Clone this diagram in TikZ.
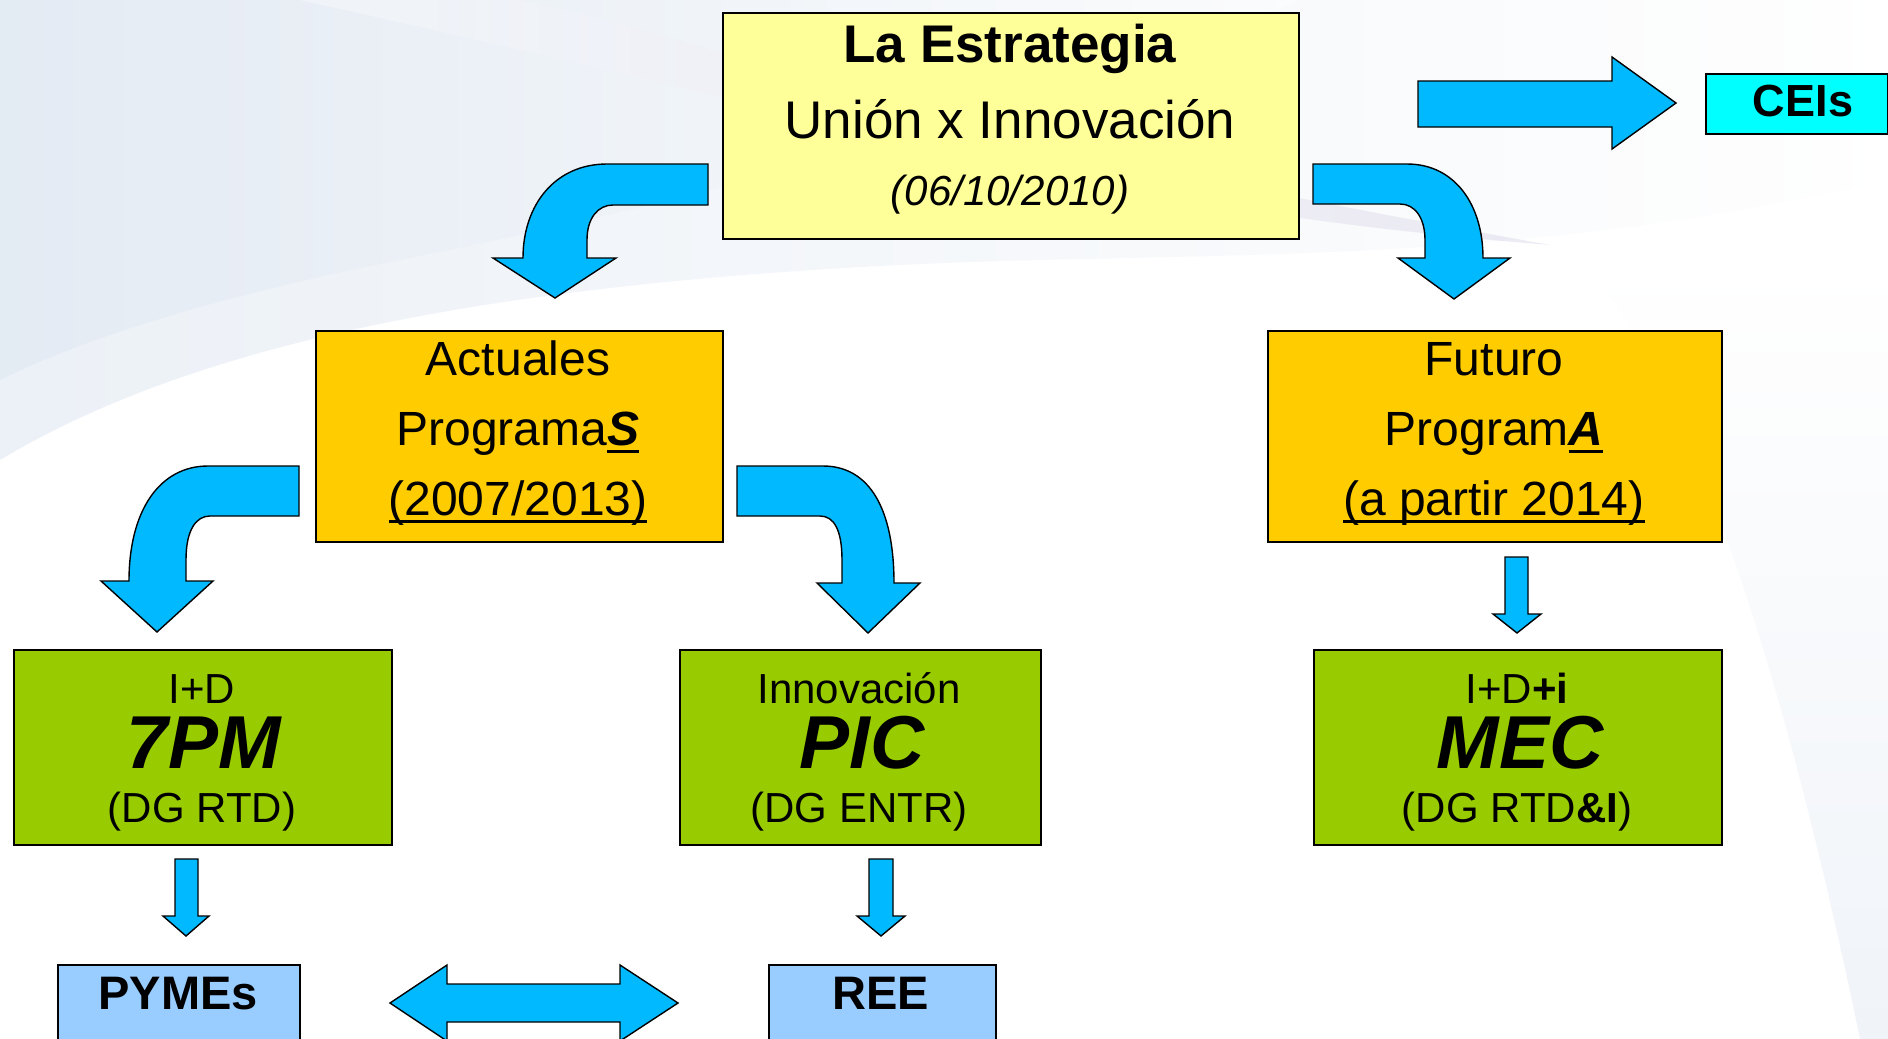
\documentclass[tikz,border=0pt]{standalone}
\usepackage{fontspec}
\setmainfont{Liberation Sans}
\definecolor{arrowblue}{RGB}{0,185,255}
\definecolor{yellowbox}{RGB}{255,255,153}
\definecolor{orangebox}{RGB}{255,204,0}
\definecolor{greenbox}{RGB}{153,204,0}
\definecolor{bluebox}{RGB}{153,204,255}
\definecolor{cyanbox}{RGB}{0,255,255}
\definecolor{bgA}{RGB}{218,228,240}
\definecolor{bgB}{RGB}{205,200,225}
\newsavebox\ulbox
\newcommand\myul[1]{\sbox\ulbox{#1}\usebox\ulbox\hspace*{-\wd\ulbox}\rule[-8pt]{\wd\ulbox}{3pt}}
\newcommand\fsBig{\fontsize{53}{60}\selectfont}
\newcommand\fsMid{\fontsize{48}{56}\selectfont}
\newcommand\fsSmall{\fontsize{42}{50}\selectfont}
\newcommand\fsHuge{\fontsize{75}{84}\selectfont}
\begin{document}
\begin{tikzpicture}[x=1pt,y=-1pt,
  box/.style={draw=black,line width=1.6pt,inner sep=0pt,anchor=north west},
  txt/.style={inner sep=0pt,anchor=base,text=black},
  blockarrow/.style={fill=arrowblue,draw=black,line width=1.4pt,line join=miter}]
\useasboundingbox (0,0) rectangle (1888,1039);
\fill[white] (0,0) rectangle (1888,1039);
% background swooshes
\shade[left color=bgA, right color=white, opacity=0.5]
  (0,0) -- (1888,0) -- (1888,180) .. controls (1500,270) and (1200,250) .. (900,265)
  .. controls (500,285) and (200,340) .. (0,460) -- cycle;
\shade[left color=bgA, right color=white, opacity=0.45]
  (0,0) -- (1300,0) .. controls (1000,120) and (700,200) .. (400,260)
  .. controls (250,290) and (100,330) .. (0,380) -- cycle;
\shade[left color=white, right color=bgB, opacity=0.35]
  (300,0) .. controls (480,40) and (650,80) .. (900,140) .. controls (1100,190) and (1300,225) .. (1550,245)
  .. controls (1300,200) and (1100,160) .. (900,110) .. controls (750,60) and (620,20) .. (520,0) -- cycle;
\shade[top color=white, bottom color=bgA, opacity=0.4]
  (1600,280) .. controls (1720,450) and (1800,750) .. (1860,1039) -- (1888,1039) -- (1888,280) -- cycle;

% boxes
\node[box, fill=yellowbox, minimum width=576pt, minimum height=226pt] (strat) at (722,12) {};
\node[box, fill=orangebox, minimum width=407pt, minimum height=211pt] (act) at (315,330) {};
\node[box, fill=orangebox, minimum width=454pt, minimum height=211pt] (fut) at (1267,330) {};
\node[box, fill=greenbox, minimum width=378pt, minimum height=195pt] (pm) at (13,649) {};
\node[box, fill=greenbox, minimum width=361pt, minimum height=195pt] (pic) at (679,649) {};
\node[box, fill=greenbox, minimum width=408pt, minimum height=195pt] (mec) at (1313,649) {};
\node[box, fill=bluebox, minimum width=242pt, minimum height=90pt] (pymes) at (57,964) {};
\node[box, fill=bluebox, minimum width=227pt, minimum height=90pt] (ree) at (768,964) {};
\node[box, fill=cyanbox, minimum width=182pt, minimum height=60pt] (ceis) at (1705,73) {};

% texts
\node[txt] (s1) at (1010,62) {\fsBig\bfseries La Estrategia};
\node[txt] (s2) at (1010,138) {\fsBig Unión x Innovación};
\node[txt] (s3) at (1010,205) {\fsSmall\itshape (06/10/2010)};

\node[txt] (a1) at (518,375) {\fsMid Actuales};
\node[txt] (a2) at (518,445) {\fsMid Programa\myul{\bfseries\itshape S}};
\node[txt] (a3) at (518,515) {\fsMid\myul{(2007/2013)}};

\node[txt] (f1) at (1494,375) {\fsMid Futuro};
\node[txt] (f2) at (1494,445) {\fsMid Program\myul{\bfseries\itshape A}};
\node[txt] (f3) at (1494,515) {\fsMid\myul{(a partir 2014)}};

\node[txt] (p1) at (202,703) {\fsSmall I+D};
\node[txt] (p2) at (204,768) {\fsHuge\bfseries\itshape 7PM};
\node[txt] (p3) at (202,822) {\fsSmall (DG RTD)};

\node[txt] (i1) at (859,703) {\fsSmall Innovación};
\node[txt] (i2) at (862,768) {\fsHuge\bfseries\itshape PIC};
\node[txt] (i3) at (859,822) {\fsSmall (DG ENTR)};

\node[txt] (m1) at (1517,703) {\fsSmall I+D\textbf{+i}};
\node[txt] (m2) at (1520,768) {\fsHuge\bfseries\itshape MEC};
\node[txt] (m3) at (1517,822) {\fsSmall (DG RTD\textbf{\&I})};

\node[txt] (c1) at (1803,116) {\fontsize{45}{52}\selectfont\bfseries CEIs};
\node[txt] (y1) at (178,1009) {\fontsize{47}{54}\selectfont\bfseries PYMEs};
\node[txt] (r1) at (881,1009) {\fontsize{47}{54}\selectfont\bfseries REE};

% block arrows
\draw[blockarrow] (708,164) -- (607,164) .. controls (555,164) and (523,205) .. (523,258)
  -- (493,258) -- (555,298) -- (616,258) -- (587,258) -- (587,240)
  .. controls (587,218) and (598,205) .. (613,205) -- (708,205) -- cycle;
\draw[blockarrow] (1313,164) -- (1407,164) .. controls (1455,164) and (1483,205) .. (1483,258)
  -- (1510,258) -- (1454,299) -- (1398,258) -- (1425,258) -- (1425,240)
  .. controls (1425,218) and (1415,204) .. (1400,204) -- (1313,204) -- cycle;
\draw[blockarrow] (299,466) -- (208,466) .. controls (160,466) and (129,510) .. (129,581)
  -- (101,581) -- (157,632) -- (213,581) -- (186,581) -- (186,560)
  .. controls (186,530) and (196,516) .. (210,516) -- (299,516) -- cycle;
\draw[blockarrow] (737,466) -- (823,466) .. controls (870,466) and (894,510) .. (894,583)
  -- (920,583) -- (868,633) -- (817,583) -- (842,583) -- (842,560)
  .. controls (842,530) and (834,516) .. (820,516) -- (737,516) -- cycle;
\draw[blockarrow] (1418,81) -- (1612,81) -- (1612,57) -- (1676,103) -- (1612,149) -- (1612,127) -- (1418,127) -- cycle;
\draw[blockarrow] (1505,557) -- (1528,557) -- (1528,614) -- (1541,614) -- (1517,633) -- (1493,614) -- (1505,614) -- cycle;
\draw[blockarrow] (175,859) -- (198,859) -- (198,916) -- (209,916) -- (186,936) -- (163,916) -- (175,916) -- cycle;
\draw[blockarrow] (869,859) -- (893,859) -- (893,916) -- (905,916) -- (881,936) -- (857,916) -- (869,916) -- cycle;
\draw[blockarrow] (390,1003) -- (447,965) -- (447,984) -- (620,984) -- (620,965) -- (678,1003)
  -- (620,1041) -- (620,1022) -- (447,1022) -- (447,1041) -- cycle;
\end{tikzpicture}
\end{document}
